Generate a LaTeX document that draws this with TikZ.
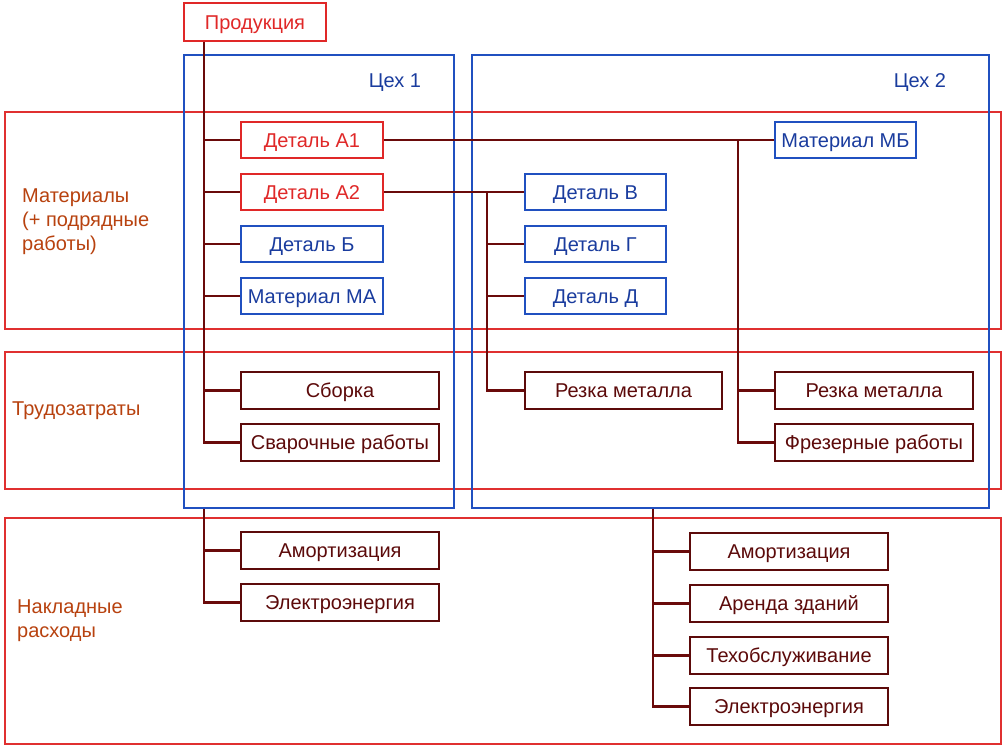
\documentclass[tikz,border=0pt]{standalone}
\usepackage{fontspec}
\setmainfont{Liberation Sans}
\definecolor{boxred}{HTML}{E02828}
\definecolor{bandred}{HTML}{E03030}
\definecolor{boxblue}{HTML}{2050C0}
\definecolor{txtblue}{HTML}{1A3C9E}
\definecolor{linecol}{HTML}{6A0A0A}
\definecolor{dred}{HTML}{5C0A0A}
\definecolor{lblcol}{HTML}{B8420F}
\begin{document}
\begin{tikzpicture}[x=1pt,y=-1pt,
  font=\fontsize{20}{24}\selectfont,
  box/.style={draw, fill=white, line width=1.8pt, inner sep=0pt, minimum height=36pt,
    text height=14.4pt, text depth=0pt},
  rbox/.style={box, draw=boxred, text=boxred, minimum width=142pt},
  bbox/.style={box, draw=boxblue, text=txtblue, minimum width=141pt},
  dbox/.style={box, draw=dred, text=dred, minimum width=198pt, minimum height=37pt},
  conn/.style={draw=linecol, line width=2.8pt},
  band/.style={draw=bandred, line width=1.6pt, inner sep=0pt, minimum width=996pt},
  shop/.style={draw=boxblue, line width=1.6pt, inner sep=0pt, minimum height=453pt},
  lbl/.style={text=lblcol, align=left, anchor=west, inner sep=0pt},
  shoplbl/.style={text=txtblue, inner sep=0pt, text height=14.4pt, text depth=0pt}]
\useasboundingbox (0,0) rectangle (1007,749);
\fill[white] (0,0) rectangle (1007,749);
% bands
\node[band, minimum height=217pt] (band1) at (503,220.5) {};
\node[band, minimum height=137pt] (band2) at (503,420.5) {};
\node[band, minimum height=226pt] (band3) at (503,631) {};
% shops
\node[shop, minimum width=270pt] (shop1) at (319,281.5) {};
\node[shop, minimum width=517pt] (shop2) at (730.5,281.5) {};
\node[shoplbl] (shop1lbl) at (395,80) {Цех 1};
\node[shoplbl] (shop2lbl) at (920,80) {Цех 2};
% band labels
\node[lbl] (lmat) at (22,222) {Материалы\\(+ подрядные\\работы)};
\node[lbl] (ltrud) at (12,411) {Трудозатраты};
\node[lbl] (lnakl) at (17,621) {Накладные\\расходы};
% boxes
\node[rbox, minimum height=38pt] (prod) at (255,22) {Продукция};
\node[rbox] (a1) at (312,140) {Деталь А1};
\node[rbox] (a2) at (312,192) {Деталь А2};
\node[bbox, minimum width=142pt] (b) at (312,244) {Деталь Б};
\node[bbox, minimum width=142pt] (ma) at (312,296) {Материал МА};
\node[dbox] (sb) at (340,390.5) {Сборка};
\node[dbox] (sv) at (340,442.5) {Сварочные работы};
\node[dbox] (am1) at (340,550.5) {Амортизация};
\node[dbox] (el1) at (340,602.5) {Электроэнергия};
\node[bbox] (mb) at (845.5,140) {Материал МБ};
\node[bbox] (dv) at (595.5,192) {Деталь В};
\node[bbox] (dg) at (595.5,244) {Деталь Г};
\node[bbox] (dd) at (595.5,296) {Деталь Д};
\node[dbox, minimum width=197pt] (rz1) at (623.5,390.5) {Резка металла};
\node[dbox] (rz2) at (874,390.5) {Резка металла};
\node[dbox] (fr) at (874,442.5) {Фрезерные работы};
\node[dbox] (am2) at (789,551.5) {Амортизация};
\node[dbox] (ar) at (789,603.5) {Аренда зданий};
\node[dbox] (th) at (789,655.5) {Техобслуживание};
\node[dbox] (el2) at (789,706.5) {Электроэнергия};
% trunk coordinates
\coordinate (t1) at (204,0);
\coordinate (t2) at (487,0);
\coordinate (t3) at (738,0);
\coordinate (t4) at (653,0);
% connectors
\draw[conn] (prod.south -| t1) -- (sv.west -| t1) -- (sv.west);
\foreach \n in {a1,a2,b,ma,sb} \draw[conn] (\n.west -| t1) -- (\n.west);
\draw[conn] (shop1.south -| t1) -- (el1.west -| t1) -- (el1.west);
\draw[conn] (am1.west -| t1) -- (am1.west);
\draw[conn] (a1.east) -- (mb.west);
\draw[conn] (a1.east -| t3) -- (fr.west -| t3) -- (fr.west);
\draw[conn] (rz2.west -| t3) -- (rz2.west);
\draw[conn] (a2.east) -- (dv.west);
\draw[conn] (a2.east -| t2) -- (rz1.west -| t2) -- (rz1.west);
\foreach \n in {dg,dd} \draw[conn] (\n.west -| t2) -- (\n.west);
\draw[conn] (shop2.south -| t4) -- (el2.west -| t4) -- (el2.west);
\foreach \n in {am2,ar,th} \draw[conn] (\n.west -| t4) -- (\n.west);
\end{tikzpicture}
\end{document}
